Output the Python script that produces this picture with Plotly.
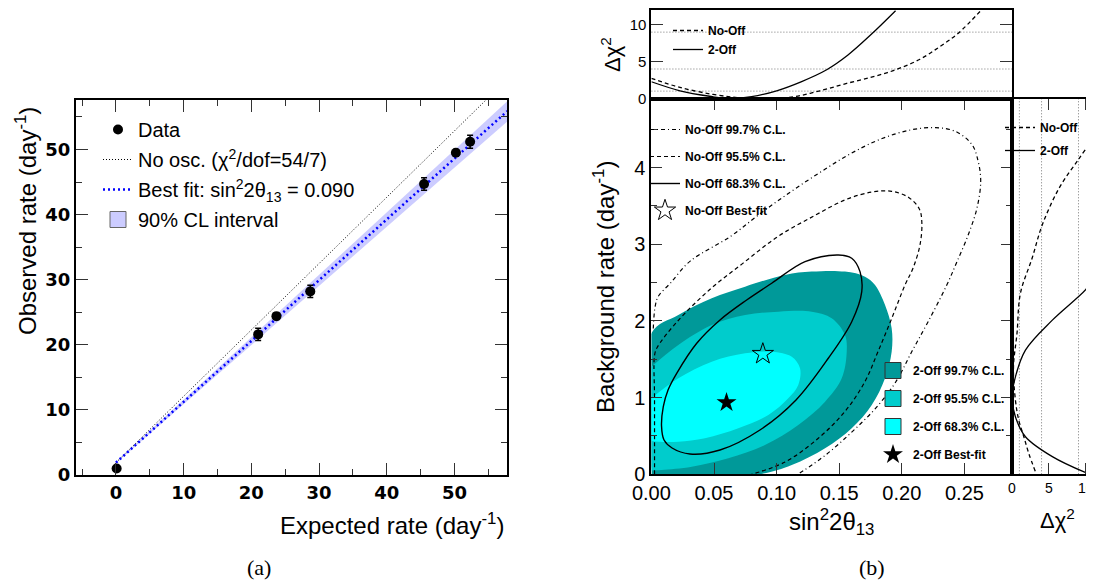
import plotly.graph_objects as go

# the page body adds an 8px offset; the figure is laid out in window pixels minus that offset
OX, OY = 8, 8
WF, HF = 1094 - OX, 580 - OY

# ---------------- panel (a): observed vs expected rate ----------------
expected_rate = [0.1, 21.0, 23.7, 28.7, 45.5, 50.2, 52.3]
observed_rate = [1.0, 21.6, 24.4, 28.2, 44.7, 49.5, 51.2]
observed_err = [0.3, 0.95, 0.5, 0.95, 0.95, 0.5, 1.0]
noosc_x = [0.0, 57.0]
noosc_y = [1.9, 60.0]
bestfit_x = [0.0, 57.8]
bestfit_y = [1.9, 55.9]
band_low = [1.8, 54.3]
band_high = [2.0, 57.4]

# ---------------- panel (b): allowed regions ----------------
# No-Off contours (sin^2 2theta13, background rate)
nooff997_s = [0.0015, 0.003, 0.0055, 0.015, 0.031, 0.063, 0.087, 0.111, 0.135, 0.159, 0.183, 0.207,
              0.227, 0.243, 0.256, 0.261, 0.263, 0.260, 0.253, 0.244, 0.236, 0.221, 0.208, 0.195,
              0.179, 0.160, 0.139, 0.117]
nooff997_b = [1.90, 2.19, 2.32, 2.49, 2.78, 3.10, 3.40, 3.68, 3.94, 4.18, 4.37, 4.49,
              4.52, 4.47, 4.30, 4.08, 3.82, 3.47, 3.12, 2.77, 2.47, 1.99, 1.60, 1.20,
              0.86, 0.55, 0.25, 0.0]
nooff955_s = [0.0025, 0.0025, 0.0025, 0.0045, 0.020, 0.046, 0.073, 0.101, 0.130, 0.155, 0.176,
              0.192, 0.2055, 0.2140, 0.2160, 0.2145, 0.209, 0.2026, 0.192, 0.181, 0.1706, 0.1546,
              0.1333, 0.1067, 0.080]
nooff955_b = [0.0, 1.0, 1.55, 1.65, 1.98, 2.40, 2.75, 3.10, 3.37, 3.58, 3.68,
              3.69, 3.61, 3.46, 3.28, 2.99, 2.69, 2.47, 2.035, 1.60, 1.21, 0.82,
              0.47, 0.16, 0.0]
nooff683_s = [0.0081, 0.0095, 0.0133, 0.0202, 0.0362, 0.0548, 0.0761, 0.0961, 0.1227, 0.1493, 0.1600,
              0.1666, 0.1680, 0.1600, 0.1413, 0.1155, 0.0867, 0.0548, 0.0308, 0.0165, 0.0101, 0.0081]
nooff683_b = [0.630, 0.882, 1.100, 1.317, 1.709, 2.013, 2.273, 2.491, 2.773, 2.860, 2.817,
              2.643, 2.382, 1.990, 1.513, 0.969, 0.578, 0.317, 0.265, 0.343, 0.447, 0.630]
# 2-Off allowed regions
twooff997_s = [0.0, 0.0, 0.0215, 0.0482, 0.0748, 0.1067, 0.1280, 0.1546, 0.1706, 0.1786, 0.1866,
               0.1919, 0.1919, 0.1866, 0.1760, 0.1600, 0.1387, 0.1121, 0.0854, 0.005, 0.0]
twooff997_b = [0.06, 1.839, 2.078, 2.296, 2.447, 2.600, 2.643, 2.643, 2.577, 2.469, 2.208,
               1.904, 1.599, 1.252, 0.904, 0.600, 0.339, 0.121, 0.0, 0.0, 0.0]
twooff955_s = [0.0, 0.0215, 0.0482, 0.0748, 0.1014, 0.1280, 0.1440, 0.1546, 0.1560, 0.1520, 0.1387,
               0.1173, 0.0907, 0.0614, 0.0322, 0.0082, 0.0]
twooff955_b = [1.403, 1.686, 1.947, 2.078, 2.121, 2.121, 2.035, 1.817, 1.599, 1.252, 0.947,
               0.643, 0.382, 0.209, 0.099, 0.056, 0.05]
twooff683_s = [0.0, 0.0215, 0.0482, 0.0748, 0.0961, 0.1121, 0.1187, 0.1173, 0.1093, 0.0934, 0.0694,
               0.0428, 0.0215, 0.0055, 0.0]
twooff683_b = [0.991, 1.252, 1.469, 1.578, 1.599, 1.534, 1.383, 1.165, 0.991, 0.773, 0.600,
               0.470, 0.425, 0.425, 0.434]
nooff_best = (0.089, 1.57)
twooff_best = (0.060, 0.935)

# Delta chi2 profile vs sin^2 2theta13 (top panel)
prof_nooff_s = [0.0, 0.0228, 0.0494, 0.0708, 0.089, 0.1134, 0.1347, 0.1560, 0.1773, 0.1959, 0.2145,
                0.2305, 0.2451, 0.2638]
prof_nooff_d = [2.73, 1.50, 0.55, 0.09, 0.0, 0.23, 1.05, 2.05, 2.95, 3.95, 5.32, 7.05, 8.86, 12.05]
prof_twooff_s = [0.0, 0.0228, 0.0494, 0.060, 0.0800, 0.1000, 0.1200, 0.1400, 0.1570, 0.1750, 0.1950]
prof_twooff_d = [2.27, 1.05, 0.23, 0.0, 0.25, 1.05, 2.30, 3.90, 5.90, 8.60, 11.90]

# Delta chi2 profile vs background rate (right panel)
rprof_nooff_d = [11.0, 9.10, 6.37, 4.09, 2.73, 1.14, 0.68, 0.2, 0.46, 0.91, 1.60, 2.28, 3.19]
rprof_nooff_b = [4.38, 4.12, 3.73, 3.25, 2.82, 2.36, 1.84, 1.4, 0.97, 0.71, 0.49, 0.27, 0.03]
rprof_twooff_d = [11.0, 10.0, 5.46, 1.82, 0.46, 0.0, 0.46, 1.82, 5.46, 10.0]
rprof_twooff_b = [2.55, 2.41, 2.01, 1.62, 1.27, 1.0, 0.75, 0.49, 0.23, 0.02]

chi2_levels = [1, 4, 9]

DARK, MED, LIGHT = "#009999", "#00cccc", "#00ffff"
DASHDOT = "4px,3px,1px,3px"
DASH = "4px,3px"


def fx(p):
    return (p - OX) / WF


def fy(p):
    return 1 - (p - OY) / HF


fig = go.Figure()

# ---------- panel (a) traces ----------
fig.add_trace(go.Scatter(x=bestfit_x + bestfit_x[::-1], y=band_high + band_low[::-1],
                         fill="toself", fillcolor="#ccccff", mode="lines", line=dict(width=0),
                         showlegend=False, hoverinfo="skip", xaxis="x", yaxis="y"))
fig.add_trace(go.Scatter(x=noosc_x, y=noosc_y, mode="lines",
                         line=dict(color="black", width=1, dash="1px,2px"),
                         name="No osc. (χ<sup>2</sup>/dof=54/7)", legendgroup="a2", legendrank=2,
                         xaxis="x", yaxis="y", legend="legend"))
fig.add_trace(go.Scatter(x=bestfit_x, y=bestfit_y, mode="lines",
                         line=dict(color="#0000ff", width=2.5, dash="2px,3px"),
                         name="Best fit: sin<sup>2</sup>2θ<sub>13</sub> = 0.090", legendgroup="a3",
                         legendrank=3, xaxis="x", yaxis="y", legend="legend"))
fig.add_trace(go.Scatter(x=[None], y=[None], mode="markers",
                         marker=dict(symbol="square", size=20, color="#ccccff",
                                     line=dict(color="#666666", width=1)),
                         name="90% CL interval", legendgroup="a4", legendrank=4,
                         xaxis="x", yaxis="y", legend="legend"))
fig.add_trace(go.Scatter(x=expected_rate, y=observed_rate, mode="markers",
                         marker=dict(color="black", size=10),
                         error_y=dict(type="data", array=observed_err, color="black",
                                      thickness=1.5, width=3),
                         name="Data", legendgroup="a1", legendrank=1,
                         xaxis="x", yaxis="y", legend="legend"))

# ---------- panel (b) main ----------
for s, b, col in [(twooff997_s, twooff997_b, DARK), (twooff955_s, twooff955_b, MED),
                  (twooff683_s, twooff683_b, LIGHT)]:
    fig.add_trace(go.Scatter(x=s, y=b, fill="toself", fillcolor=col, mode="lines",
                             line=dict(width=0, shape="spline", smoothing=1),
                             showlegend=False, hoverinfo="skip", xaxis="x2", yaxis="y2"))

fig.add_trace(go.Scatter(x=nooff997_s, y=nooff997_b, mode="lines",
                         line=dict(color="black", width=1.2, dash=DASHDOT, shape="spline"),
                         name="No-Off 99.7% C.L.", legendgroup="n1", legendrank=1,
                         xaxis="x2", yaxis="y2", legend="legend2"))
fig.add_trace(go.Scatter(x=nooff955_s, y=nooff955_b, mode="lines",
                         line=dict(color="black", width=1.2, dash=DASH, shape="spline"),
                         name="No-Off 95.5% C.L.", legendgroup="n2", legendrank=2,
                         xaxis="x2", yaxis="y2", legend="legend2"))
fig.add_trace(go.Scatter(x=nooff683_s, y=nooff683_b, mode="lines",
                         line=dict(color="black", width=1.4, shape="spline"),
                         name="No-Off 68.3% C.L.", legendgroup="n3", legendrank=3,
                         xaxis="x2", yaxis="y2", legend="legend2"))
fig.add_trace(go.Scatter(x=[nooff_best[0]], y=[nooff_best[1]], mode="markers",
                         marker=dict(symbol="star-open", size=16, color="black", line=dict(width=1)),
                         name="No-Off Best-fit", legendgroup="n4", legendrank=4,
                         xaxis="x2", yaxis="y2", legend="legend2"))
for nm, col, rk in [("2-Off 99.7% C.L.", DARK, 1), ("2-Off 95.5% C.L.", MED, 2),
                    ("2-Off 68.3% C.L.", LIGHT, 3)]:
    fig.add_trace(go.Scatter(x=[None], y=[None], mode="markers",
                             marker=dict(symbol="square", size=16, color=col,
                                         line=dict(color="#333333", width=1)),
                             name=nm, legendgroup="t%d" % rk, legendrank=rk,
                             xaxis="x2", yaxis="y2", legend="legend3"))
fig.add_trace(go.Scatter(x=[twooff_best[0]], y=[twooff_best[1]], mode="markers",
                         marker=dict(symbol="star", size=15, color="black"),
                         name="2-Off Best-fit", legendgroup="t4", legendrank=4,
                         xaxis="x2", yaxis="y2", legend="legend3"))

# ---------- top panel ----------
fig.add_trace(go.Scatter(x=prof_nooff_s, y=prof_nooff_d, mode="lines",
                         line=dict(color="black", width=1.3, dash=DASH, shape="spline"),
                         name="No-Off", legendgroup="p1", legendrank=1,
                         xaxis="x3", yaxis="y3", legend="legend4"))
fig.add_trace(go.Scatter(x=prof_twooff_s, y=prof_twooff_d, mode="lines",
                         line=dict(color="black", width=1.3, shape="spline"),
                         name="2-Off", legendgroup="p2", legendrank=2,
                         xaxis="x3", yaxis="y3", legend="legend4"))

# ---------- right panel ----------
fig.add_trace(go.Scatter(x=rprof_nooff_d, y=rprof_nooff_b, mode="lines",
                         line=dict(color="black", width=1.3, dash=DASH, shape="spline"),
                         name="No-Off", legendgroup="r1", legendrank=1,
                         xaxis="x4", yaxis="y4", legend="legend5"))
fig.add_trace(go.Scatter(x=rprof_twooff_d, y=rprof_twooff_b, mode="lines",
                         line=dict(color="black", width=1.3, shape="spline"),
                         name="2-Off", legendgroup="r2", legendrank=2,
                         xaxis="x4", yaxis="y4", legend="legend5"))

# reference chi2 levels
shapes = []
for lv in chi2_levels:
    shapes.append(dict(type="line", xref="x3 domain", yref="y3", x0=0, x1=1, y0=lv, y1=lv,
                       line=dict(color="#777777", width=1, dash="1px,2px"), layer="below"))
    shapes.append(dict(type="line", xref="x4", yref="y4 domain", x0=lv, x1=lv, y0=0, y1=1,
                       line=dict(color="#777777", width=1, dash="1px,2px"), layer="below"))

FONT = "Liberation Sans"
tickA = dict(family="DejaVu Sans", size=18, color="black", weight="bold")
tickB = dict(family=FONT, size=20, color="black")
common = dict(showline=True, linecolor="black", linewidth=2, mirror="ticks", ticks="inside",
              tickcolor="#333333", tickwidth=1.3, showgrid=False, zeroline=False)

XA = [fx(76), fx(507)]
YA = [fy(475), fy(100)]
XB = [fx(651.4), fx(1012)]
YB = [fy(474.3), fy(98.5)]
YT = [fy(98.5), fy(10)]
XR = [fx(1012), 1.0]

fig.update_layout(
    width=WF, height=HF, margin=dict(l=0, r=0, t=0, b=0, autoexpand=False),
    paper_bgcolor="white", plot_bgcolor="white",
    font=dict(family=FONT, color="black"),
    xaxis=dict(domain=XA, range=[-5.9, 57.75], anchor="y", dtick=10, tick0=0, ticklen=12,
               tickfont=tickA, minor=dict(dtick=5, ticks="inside", ticklen=6, tickcolor="#333333"),
               **common),
    yaxis=dict(domain=YA, range=[0, 57.6], anchor="x", dtick=10, tick0=0, ticklen=12,
               tickfont=tickA, minor=dict(dtick=5, ticks="inside", ticklen=6, tickcolor="#333333"),
               **common),
    xaxis2=dict(domain=XB, range=[0, 0.288], anchor="y2", dtick=0.05, tick0=0, ticklen=11,
                tickformat=".2f", tickfont=tickB, **common),
    yaxis2=dict(domain=YB, range=[0, 4.9], anchor="x2", dtick=1, tick0=0, ticklen=11,
                tickfont=tickB, minor=dict(dtick=0.5, ticks="inside", ticklen=6, tickcolor="#333333"),
                **common),
    xaxis3=dict(domain=XB, range=[0, 0.288], anchor="y3", showline=True, linecolor="black",
                linewidth=2, mirror=True, ticks="", showticklabels=False, showgrid=False,
                zeroline=False),
    yaxis3=dict(domain=YT, range=[0, 12], anchor="x3", dtick=5, tick0=0, ticklen=12,
                tickfont=dict(family=FONT, size=15, color="black"), **common),
    xaxis4=dict(domain=XR, range=[0, 11.1], anchor="y4", dtick=5, tick0=0, ticklen=11,
                tickfont=dict(family=FONT, size=14, color="black"), **common),
    yaxis4=dict(domain=YB, range=[0, 4.9], anchor="x4", showline=True, linecolor="black",
                linewidth=2, mirror=False, ticks="", showticklabels=False, showgrid=False,
                zeroline=False),
    shapes=shapes,
    legend=dict(x=fx(98), y=fy(110), xanchor="left", yanchor="top", bgcolor="rgba(0,0,0,0)",
                font=dict(family=FONT, size=20), traceorder="grouped", tracegroupgap=1),
    legend2=dict(x=fx(645), y=fy(115), xanchor="left", yanchor="top", bgcolor="rgba(0,0,0,0)",
                 font=dict(family=FONT, size=12, weight="bold"), traceorder="grouped",
                 tracegroupgap=8),
    legend3=dict(x=fx(873), y=fy(356), xanchor="left", yanchor="top", bgcolor="rgba(0,0,0,0)",
                 font=dict(family=FONT, size=12, weight="bold"), traceorder="grouped",
                 tracegroupgap=9),
    legend4=dict(x=fx(668), y=fy(16), xanchor="left", yanchor="top", bgcolor="rgba(0,0,0,0)",
                 font=dict(family=FONT, size=12, weight="bold"), traceorder="grouped",
                 tracegroupgap=0),
    legend5=dict(x=fx(1000), y=fy(113), xanchor="left", yanchor="top", bgcolor="rgba(0,0,0,0)",
                 font=dict(family=FONT, size=12, weight="bold"), traceorder="grouped",
                 tracegroupgap=4),
    annotations=[
        dict(text="Observed rate (day<sup>-1</sup>)", textangle=-90, x=fx(26), y=fy(221),
             xref="paper", yref="paper", xanchor="center", yanchor="middle", showarrow=False,
             font=dict(family=FONT, size=24)),
        dict(text="Expected rate (day<sup>-1</sup>)", x=fx(506), y=fy(524), xref="paper",
             yref="paper", xanchor="right", yanchor="middle", showarrow=False,
             font=dict(family=FONT, size=24)),
        dict(text="(a)", x=fx(259), y=fy(567), xref="paper", yref="paper", xanchor="center",
             yanchor="middle", showarrow=False, font=dict(family="Liberation Serif", size=22)),
        dict(text="Background rate (day<sup>-1</sup>)", textangle=-90, x=fx(604), y=fy(287),
             xref="paper", yref="paper", xanchor="center", yanchor="middle", showarrow=False,
             font=dict(family=FONT, size=24)),
        dict(text="Δχ<sup>2</sup>", textangle=-90, x=fx(611), y=fy(55), xref="paper",
             yref="paper", xanchor="center", yanchor="middle", showarrow=False,
             font=dict(family=FONT, size=22)),
        dict(text="sin<sup>2</sup>2θ<sub>13</sub>", x=fx(831), y=fy(522), xref="paper",
             yref="paper", xanchor="center", yanchor="middle", showarrow=False,
             font=dict(family=FONT, size=24)),
        dict(text="Δχ<sup>2</sup>", x=fx(1057), y=fy(519), xref="paper", yref="paper",
             xanchor="center", yanchor="middle", showarrow=False,
             font=dict(family=FONT, size=22)),
        dict(text="(b)", x=fx(872), y=fy(567), xref="paper", yref="paper", xanchor="center",
             yanchor="middle", showarrow=False, font=dict(family="Liberation Serif", size=22)),
    ],
)

fig.write_html("out.html")
